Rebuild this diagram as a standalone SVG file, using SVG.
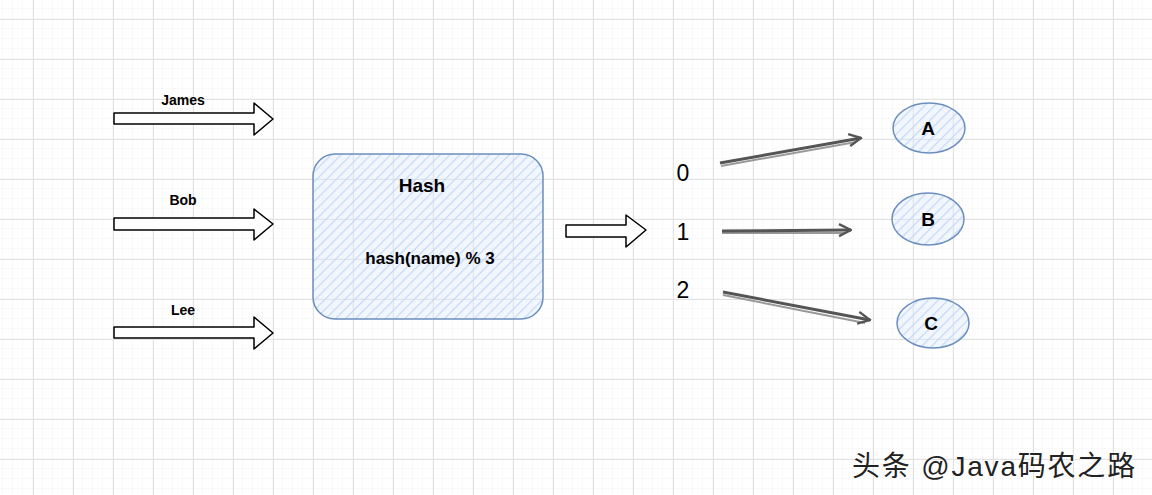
<svg xmlns="http://www.w3.org/2000/svg" width="1152" height="495" viewBox="0 0 1152 495">
<defs>
<pattern id="minor" x="3" y="9" width="10" height="10" patternUnits="userSpaceOnUse">
<path d="M10 0V10M0 10H10" fill="none" stroke="#f2f2f2" stroke-width="1"/>
</pattern>
<pattern id="major" x="33" y="19" width="40" height="40" patternUnits="userSpaceOnUse">
<path d="M0.5 0V40M0 0.5H40" fill="none" stroke="#e2e2e2" stroke-width="1"/>
</pattern>
<pattern id="hatch" width="7" height="7" patternUnits="userSpaceOnUse" patternTransform="rotate(45)">
<rect width="7" height="7" fill="#dae8fc" fill-opacity="0.35"/>
<line x1="0" y1="0" x2="0" y2="7" stroke="#c5d8f6" stroke-width="2.4"/>
</pattern>
<marker id="ah" viewBox="0 0 10 10" refX="9" refY="5" markerWidth="5" markerHeight="5" orient="auto" markerUnits="strokeWidth">
<path d="M1 1L9 5L1 9" fill="none" stroke="#555" stroke-width="1.6"/>
</marker>
</defs>
<style>
.lbl{font-family:"Liberation Sans",Arial,sans-serif;font-weight:bold;fill:#000;text-anchor:middle}
.num{font-family:"Liberation Sans",Arial,sans-serif;font-size:23px;fill:#000;text-anchor:middle}
.blk{fill:#fff;stroke:#000;stroke-width:1.5;stroke-linejoin:round}
.node{fill:url(#hatch);stroke:#6c8ebf;stroke-width:1.5}
.conn{fill:none;stroke:#555;stroke-width:3;marker-end:url(#ah)}
.shadow{fill:none;stroke:#999;stroke-width:2}
</style>
<rect width="1152" height="495" fill="#fff"/>
<rect width="1152" height="495" fill="url(#minor)"/>
<rect width="1152" height="495" fill="url(#major)"/>

<g id="arrow-james">
<path class="blk" d="M114 113H254V103L273 119L254 135V124H114Z"/>
<text class="lbl" x="183" y="105" font-size="14">James</text>
</g>
<g id="arrow-bob">
<path class="blk" d="M114 218H254V209L273 224L254 240V230H114Z"/>
<text class="lbl" x="183" y="205" font-size="14">Bob</text>
</g>
<g id="arrow-lee">
<path class="blk" d="M114 327H254V317L273 333L254 349V338H114Z"/>
<text class="lbl" x="183" y="315" font-size="14">Lee</text>
</g>

<g id="hash">
<rect class="node" x="313" y="154" width="230" height="165" rx="22" ry="22"/>
<text class="lbl" x="422" y="192" font-size="19">Hash</text>
<text class="lbl" x="430" y="264" font-size="17">hash(name) % 3</text>
</g>

<g id="arrow-out">
<path class="blk" d="M566 225H626V215L646 230L626 247V237H566Z"/>
</g>

<g id="idx0"><text class="num" x="683" y="181">0</text></g>
<g id="idx1"><text class="num" x="683" y="240">1</text></g>
<g id="idx2"><text class="num" x="683" y="298">2</text></g>

<g id="connectors">
<line class="shadow" x1="721" y1="166" x2="856" y2="142"/>
<line class="conn" x1="720" y1="163" x2="861" y2="138"/>
<line class="shadow" x1="722" y1="233" x2="846" y2="233"/>
<line class="conn" x1="722" y1="231" x2="851" y2="230"/>
<line class="shadow" x1="723" y1="295" x2="865" y2="323"/>
<line class="conn" x1="723" y1="292" x2="870" y2="320"/>
</g>

<g id="node-a">
<ellipse class="node" cx="929" cy="128" rx="36" ry="25"/>
<text class="lbl" x="928" y="135" font-size="19">A</text>
</g>
<g id="node-b">
<ellipse class="node" cx="928" cy="219" rx="36" ry="26"/>
<text class="lbl" x="928" y="226" font-size="19">B</text>
</g>
<g id="node-c">
<ellipse class="node" cx="933" cy="323" rx="36" ry="25"/>
<text class="lbl" x="931" y="330" font-size="19">C</text>
</g>

<text x="852" y="476" font-family="'Liberation Sans','Noto Sans CJK SC',sans-serif" font-size="28" letter-spacing="1.8" fill="#222" stroke="#fff" stroke-width="0.5" paint-order="stroke">头条 @Java码农之路</text>
</svg>
